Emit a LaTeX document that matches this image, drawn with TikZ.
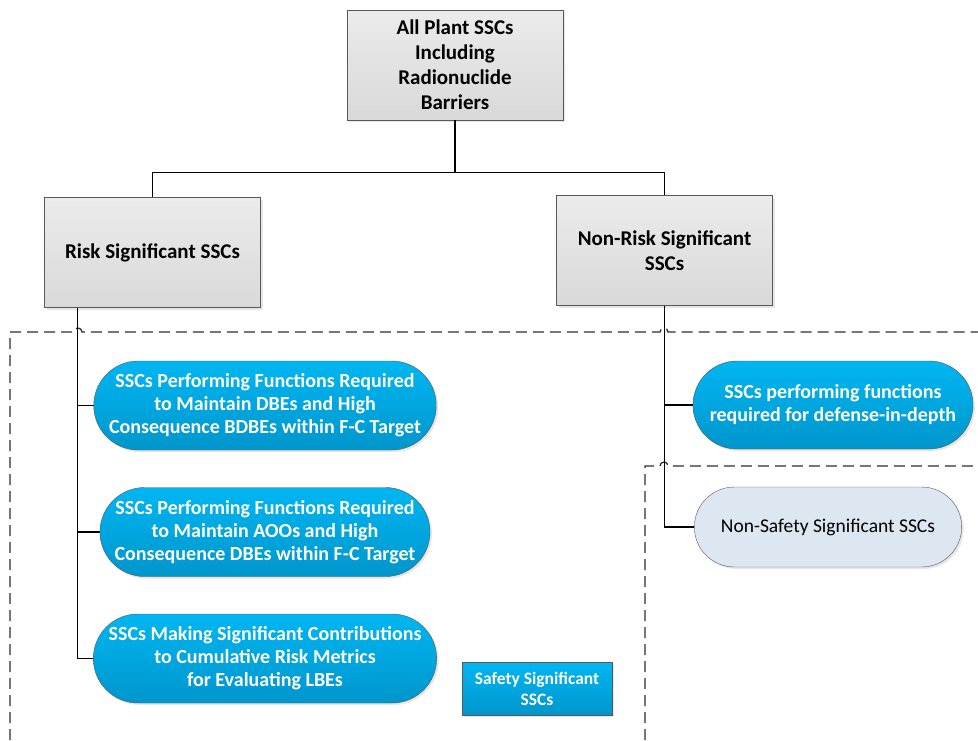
\documentclass[tikz,border=0pt]{standalone}
\usepackage{fontspec}
\setmainfont{Carlito}
\usetikzlibrary{shapes.misc,shadows}
\definecolor{edgegray}{HTML}{595959}
\definecolor{boxtop}{HTML}{EBEBEB}
\definecolor{boxbot}{HTML}{D9D9D9}
\definecolor{pilltop}{HTML}{00B6F2}
\definecolor{pillbot}{HTML}{0096CC}
\definecolor{palepill}{HTML}{DCE7F2}
\definecolor{dashgray}{HTML}{2E2E2E}

\tikzset{
  ssc box/.style={draw=edgegray, top color=boxtop, bottom color=boxbot,
    minimum width=216pt, minimum height=110pt, align=center, inner sep=2pt,
    font=\fontsize{21}{25}\selectfont\bfseries,
    drop shadow={opacity=0.2, shadow xshift=2pt, shadow yshift=-2pt}},
  ssc pill/.style={rounded rectangle, draw=edgegray, top color=pilltop,
    bottom color=pillbot, text=white, align=center, inner sep=2pt,
    minimum width=334pt, minimum height=89pt,
    font=\fontsize{20}{23}\selectfont\bfseries,
    drop shadow={opacity=0.2, shadow xshift=2pt, shadow yshift=-2pt}},
  pale pill/.style={rounded rectangle, draw=edgegray, fill=palepill,
    align=center, minimum width=274pt, minimum height=80pt,
    font=\fontsize{19.5}{23}\selectfont,
    drop shadow={opacity=0.2, shadow xshift=2pt, shadow yshift=-2pt}},
  legend box/.style={draw=edgegray, top color=pilltop, bottom color=pillbot,
    text=white, align=center, minimum width=150pt, minimum height=53pt,
    inner sep=1pt, font=\fontsize{17.5}{21}\selectfont\bfseries,
    drop shadow={opacity=0.2, shadow xshift=2pt, shadow yshift=-2pt}},
  tree line/.style={line width=1.3pt},
  zone line/.style={line width=1.3pt, dashgray, dash pattern=on 11pt off 6pt},
}

\begin{document}
\begin{tikzpicture}[x=1pt, y=1pt]
\useasboundingbox (0,0) rectangle (978,-740);

% dashed zones
\draw[zone line] (10,-740) -- (10,-332) -- (74,-332) arc (180:0:4) -- (660,-332)
  arc (180:0:4) -- (978,-332);
\draw[zone line] (645,-740) -- (645,-466) -- (660,-466) arc (180:0:4) -- (978,-466);

\node[ssc box] (all) at (455,-65) {All Plant SSCs\\Including\\Radionuclide\\Barriers};
\node[ssc box] (risk) at (152.5,-252.5) {Risk Significant SSCs};
\node[ssc box] (nonrisk) at (664.5,-250.5) {Non-Risk Significant\\SSCs};

\node[ssc pill] (dbe) at (265,-405.5) {SSCs Performing Functions Required\\to Maintain DBEs and High\\Consequence BDBEs within F-C Target};
\node[ssc pill] (aoo) at (265,-532) {SSCs Performing Functions Required\\to Maintain AOOs and High\\Consequence DBEs within F-C Target};
\node[ssc pill] (lbe) at (265,-658.5) {SSCs Making Significant Contributions\\to Cumulative Risk Metrics\\for Evaluating LBEs};

\node[ssc pill, minimum width=284pt, minimum height=88pt] (did) at (833,-405) {SSCs performing functions\\required for defense-in-depth};
\node[pale pill] (nss) at (828,-527) {Non-Safety Significant SSCs};

\node[legend box] (legend) at (537,-688.5) {Safety Significant\\SSCs};

% tree
\draw[tree line] (all.south) -- ++(0,-52) -| (risk.north);
\draw[tree line] (all.south) -- ++(0,-52) -| (nonrisk.north);
\coordinate (trunk) at ([xshift=33pt]risk.south west);
\draw[tree line] (trunk) |- (dbe.west);
\draw[tree line] (trunk) |- (aoo.west);
\draw[tree line] (trunk) |- (lbe.west);
\draw[tree line] (nonrisk.south) |- (did.west);
\draw[tree line] (nonrisk.south) |- (nss.west);

\end{tikzpicture}
\end{document}
